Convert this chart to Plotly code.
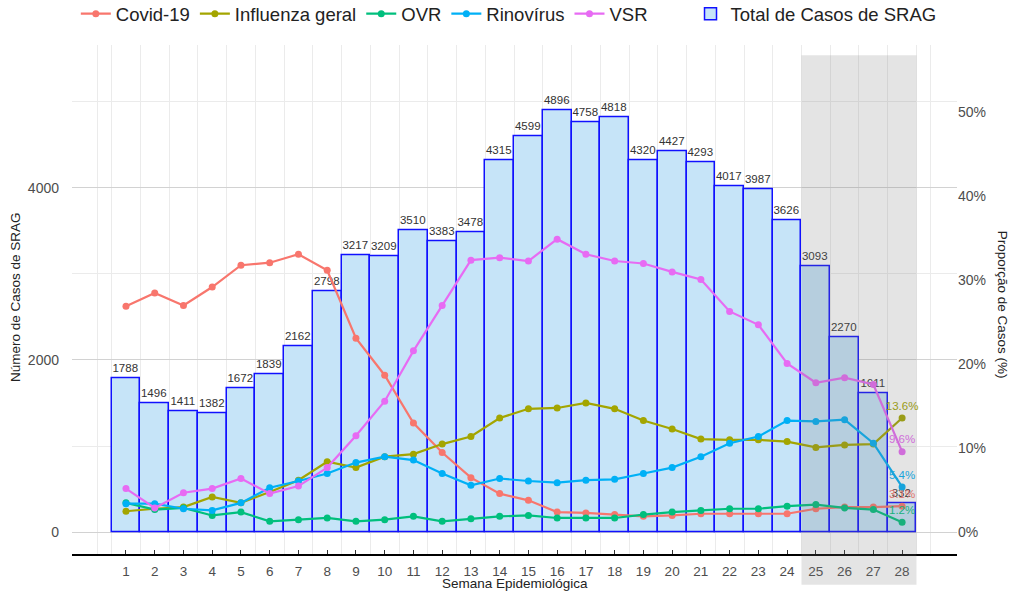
import plotly.graph_objects as go

# ---------------- data ----------------
weeks = list(range(1, 29))
week_labels = [str(w) for w in weeks]
total_srag = [1788, 1496, 1411, 1382, 1672, 1839, 2162, 2798, 3217, 3209, 3510, 3383, 3478, 4315,
              4599, 4896, 4758, 4818, 4320, 4427, 4293, 4017, 3987, 3626, 3093, 2270, 1611, 332]
covid = [26.9, 28.5, 27.0, 29.2, 31.8, 32.1, 33.1, 31.2, 23.1, 18.7, 13.0, 9.5, 6.5, 4.6,
         3.8, 2.4, 2.3, 2.1, 1.9, 2.0, 2.2, 2.2, 2.2, 2.2, 2.8, 3.0, 3.0, 3.1]
influenza = [2.5, 2.8, 3.0, 4.2, 3.5, 4.8, 6.2, 8.4, 7.7, 9.0, 9.3, 10.5, 11.4, 13.6,
             14.7, 14.8, 15.4, 14.7, 13.3, 12.3, 11.1, 11.0, 11.0, 10.8, 10.1, 10.4, 10.5, 13.6]
ovr = [3.5, 2.7, 2.9, 2.0, 2.4, 1.3, 1.5, 1.7, 1.3, 1.5, 1.9, 1.3, 1.6, 1.9,
       2.0, 1.7, 1.7, 1.7, 2.1, 2.4, 2.6, 2.8, 2.8, 3.1, 3.3, 2.9, 2.7, 1.2]
rinovirus = [3.4, 3.4, 2.8, 2.6, 3.5, 5.3, 6.1, 7.0, 8.3, 9.0, 8.6, 7.0, 5.6, 6.4,
             6.1, 5.9, 6.2, 6.3, 7.0, 7.7, 9.0, 10.6, 11.4, 13.3, 13.2, 13.4, 10.6, 5.4]
vsr = [5.2, 2.9, 4.7, 5.2, 6.4, 4.6, 5.5, 7.7, 11.5, 15.6, 21.6, 27.0, 32.4, 32.7,
       32.3, 34.9, 33.1, 32.3, 32.0, 31.0, 30.1, 26.3, 24.7, 20.1, 17.8, 18.4, 17.6, 9.6]

series_names = ["Covid-19", "Influenza geral", "OVR", "Rinovírus", "VSR"]
series_values = [covid, influenza, ovr, rinovirus, vsr]
series_colors = ["#F8766D", "#A3A500", "#00BF7D", "#00B0F6", "#E76BF3"]

shade_start, shade_end = 24.5, 28.5
left_ticks = [0, 2000, 4000]
left_minor = [1000, 3000, 5000]
right_ticks = [0, 10, 20, 30, 40, 50]
right_labels = [f"{v}%" for v in right_ticks]

FONT = "Liberation Sans, Arial, Helvetica, sans-serif"

fig = go.Figure()

fig.add_trace(go.Bar(
    x=weeks, y=total_srag, name="Total de Casos de SRAG",
    width=1.0,
    marker=dict(color="#c6e4f8", line=dict(color="#1010ff", width=1.5)),
    text=[str(v) for v in total_srag], textposition="outside",
    textangle=0, constraintext="none", cliponaxis=False,
    textfont=dict(size=11.5, color="#333333", family=FONT),
    legend="legend2", showlegend=True, yaxis="y",
))

for name, vals, col in zip(series_names, series_values, series_colors):
    labels = [""] * (len(vals) - 1) + [f"{vals[-1]:.1f}%"]
    fig.add_trace(go.Scatter(
        x=weeks, y=vals, name=name, mode="lines+markers+text",
        line=dict(color=col, width=2.2),
        marker=dict(color=col, size=7),
        text=labels, textposition="top center",
        textfont=dict(size=11.5, color=col, family=FONT),
        cliponaxis=False, yaxis="y2", legend="legend",
    ))

grid_x = [0] + [i + 0.5 for i in range(0, 29)] + [29]

fig.update_layout(
    width=1011, height=591,
    margin=dict(l=72, r=54, t=40, b=37),
    paper_bgcolor="white", plot_bgcolor="white",
    font=dict(family=FONT, color="#333333"),
    bargap=0,
    xaxis=dict(
        range=[-0.878, 29.91], tickmode="array", tickvals=weeks, ticktext=week_labels,
        ticks="inside", ticklen=4, tickcolor="#333333", tickwidth=1,
        showline=True, linecolor="black", linewidth=2,
        showgrid=False, zeroline=False,
        tickfont=dict(size=13.5, color="#4d4d4d"),
        ticklabelstandoff=4,
        minor=dict(tickmode="array", tickvals=grid_x, showgrid=True,
                   gridcolor="#ebebeb", gridwidth=1, ticks=""),
    ),
    yaxis=dict(
        range=[-253, 5655], tickmode="array", tickvals=left_ticks,
        showgrid=True, gridcolor="#d2d2d2", gridwidth=1.3,
        zeroline=False, showline=False, ticks="",
        tickfont=dict(size=14, color="#4d4d4d"),
        ticklabelstandoff=12,
        minor=dict(tickmode="array", tickvals=left_minor, showgrid=True,
                   gridcolor="#ebebeb", gridwidth=1),
    ),
    yaxis2=dict(
        range=[-2.59, 58.0], overlaying="y", side="right",
        tickmode="array", tickvals=right_ticks, ticktext=right_labels,
        showgrid=False, zeroline=False, showline=False, ticks="",
        tickfont=dict(size=14, color="#4d4d4d"),
    ),
    legend=dict(
        orientation="h", xref="container", yref="container",
        x=0.075, y=0.976, xanchor="left", yanchor="middle",
        font=dict(size=18.5, color="#222222"), bgcolor="rgba(0,0,0,0)",
        itemwidth=30, traceorder="normal",
    ),
    legend2=dict(
        orientation="h", xref="container", yref="container",
        x=0.683, y=0.976, xanchor="left", yanchor="middle",
        font=dict(size=18.5, color="#222222"), bgcolor="rgba(0,0,0,0)",
        itemwidth=30,
    ),
    shapes=[dict(
        type="rect", xref="x", yref="paper",
        x0=shade_start, x1=shade_end, y0=-0.0603, y1=0.98,
        fillcolor="rgba(120,120,120,0.2)", line=dict(width=0), layer="above",
    )],
    annotations=[
        dict(text="Número de Casos de SRAG", xref="paper", yref="paper",
             x=-0.0644, y=0.505, textangle=-90, showarrow=False,
             xanchor="center", yanchor="middle",
             font=dict(size=13.5, color="#222222")),
        dict(text="Proporção de Casos (%)", xref="paper", yref="paper",
             x=1.0508, y=0.49, textangle=90, showarrow=False,
             xanchor="center", yanchor="middle",
             font=dict(size=13.5, color="#222222")),
        dict(text="Semana Epidemiológica", xref="paper", yref="paper",
             x=0.5006, y=-0.058, showarrow=False,
             xanchor="center", yanchor="middle",
             font=dict(size=13.5, color="#222222")),
    ],
)

fig.write_html("out.html", config={"displayModeBar": False},
               post_script="document.body.style.margin='0';")
